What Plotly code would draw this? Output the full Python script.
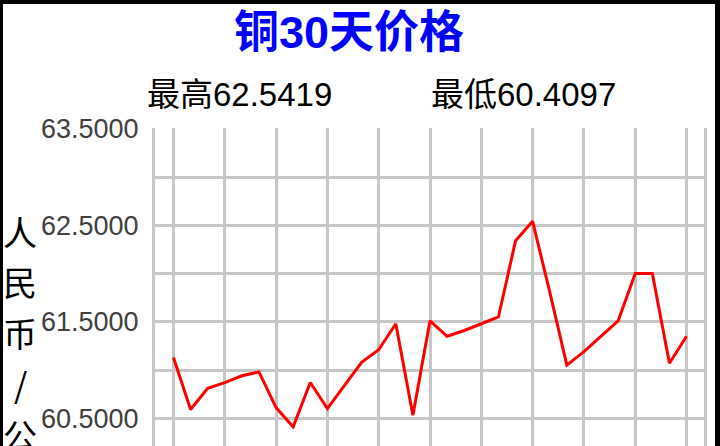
import plotly.graph_objects as go

# ---- data ----
day_index = list(range(31))
price = [61.13, 60.59, 60.81, 60.87, 60.94, 60.98, 60.61, 60.41, 60.87, 60.60,
         60.84, 61.08, 61.21, 61.48, 60.53, 61.51, 61.35, 61.41, 61.48, 61.55,
         62.34, 62.5419, 61.81, 61.05, 61.19, 61.35, 61.51, 62.00, 62.00, 61.07,
         61.35]
x_grid = list(range(0, 31, 3))
y_tickvals = [60.5, 61.0, 61.5, 62.0, 62.5, 63.0, 63.5]
y_ticktext = ["60.5000", "", "61.5000", "", "62.5000", "", "63.5000"]
title_text = "铜30天价格"
high_text = "最高62.5419"
low_text = "最低60.4097"
y_title_chars = ["人", "民", "币", "/", "公", "斤"]

FONT = "Liberation Sans, Noto Sans CJK SC, sans-serif"
GRID = "#c6c6c6"

fig = go.Figure()
fig.add_trace(go.Scatter(x=day_index, y=price, mode="lines",
                         line=dict(color="#ff0000", width=3),
                         hoverinfo="skip", showlegend=False))

annotations = [
    dict(text="<b>" + title_text + "</b>", xref="paper", yref="paper",
         x=0.3534, y=1.30, xanchor="center", yanchor="middle", showarrow=False,
         font=dict(family=FONT, size=45, color="#0000ff")),
    dict(text=high_text, xref="paper", yref="paper",
         x=-0.0182, y=1.105, xanchor="left", yanchor="middle", showarrow=False,
         font=dict(family=FONT, size=33, color="#000000")),
    dict(text=low_text, xref="paper", yref="paper",
         x=0.4991, y=1.105, xanchor="left", yanchor="middle", showarrow=False,
         font=dict(family=FONT, size=33, color="#000000")),
]
# vertical, upright y-axis title: one character per row (50 px pitch)
for i, ch in enumerate(y_title_chars):
    annotations.append(dict(
        text=ch, xref="paper", yref="paper",
        x=-0.2457, y=0.6761 - i * 0.1597, xanchor="center", yanchor="middle",
        showarrow=False,
        font=dict(family="Noto Sans CJK SC", size=34, color="#000000")))

# figure sits at page offset (3, 4) inside a black frame
fig.update_layout(
    width=712, height=442,
    margin=dict(l=152, r=11, t=124, b=0, pad=0),
    paper_bgcolor="white", plot_bgcolor="white",
    showlegend=False,
    xaxis=dict(range=[-1.08, 31.02], tickvals=x_grid, showticklabels=False,
               showgrid=True, gridcolor=GRID, gridwidth=3, zeroline=False,
               showline=False, ticks=""),
    yaxis=dict(range=[60.212, 63.51], tickvals=y_tickvals, ticktext=y_ticktext,
               showgrid=True, gridcolor=GRID, gridwidth=3, zeroline=False,
               showline=True, linecolor=GRID, linewidth=3, mirror=True,
               ticks="", ticklabelstandoff=8,
               tickfont=dict(family=FONT, size=27, color="#404040")),
    annotations=annotations,
)

fig.write_html(
    "out.html",
    config={"displayModeBar": False, "staticPlot": True},
    post_script=(
        "document.documentElement.style.background='black';"
        "document.body.style.margin='0px';"
        "document.body.style.background='black';"
        "document.body.style.overflow='hidden';"
        "var d=document.getElementById('{plot_id}');"
        "d.style.position='absolute';d.style.left='3px';d.style.top='4px';"
    ),
)
